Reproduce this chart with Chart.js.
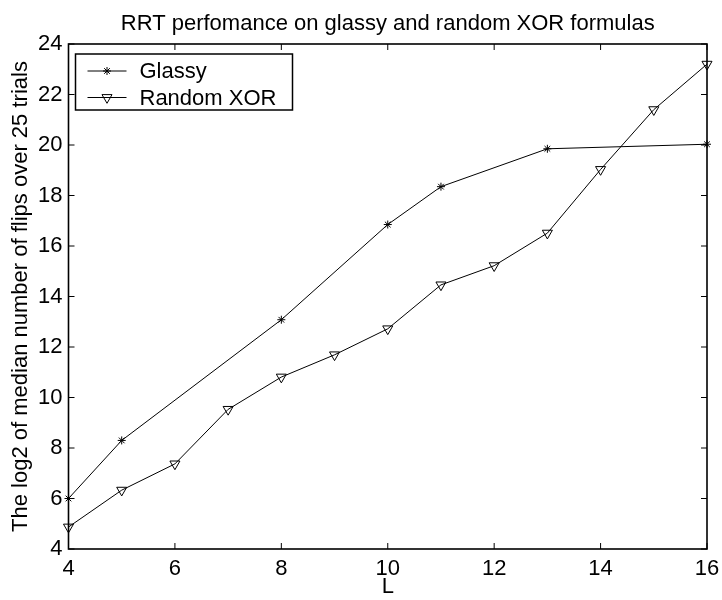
<!DOCTYPE html>
<html>
<head>
<meta charset="utf-8">
<script src="https://cdn.jsdelivr.net/npm/chart.js@4.4.1/dist/chart.umd.min.js"></script>
<style>
body { margin: 0; background: #fff; }
</style>
</head>
<body>
<canvas id="chart" width="722" height="600"></canvas>
<script>
// values
var glassyL = [4, 5, 8, 10, 11, 13, 16];
var glassyFlips = [6.0, 8.3, 13.08, 16.85, 18.35, 19.85, 20.03];
var xorL = [4, 5, 6, 7, 8, 9, 10, 11, 12, 13, 14, 15, 16];
var xorFlips = [4.87, 6.33, 7.37, 9.53, 10.81, 11.69, 12.72, 14.46, 15.22, 16.51, 19.03, 21.4, 23.2];
var xTicks = [4, 6, 8, 10, 12, 14, 16];
var yTicks = [4, 6, 8, 10, 12, 14, 16, 18, 20, 22, 24];
var seriesNames = ["Glassy", "Random XOR"];

var FONT = "'Liberation Sans', Arial, Helvetica, sans-serif";
Chart.defaults.font.family = FONT;
Chart.defaults.color = "#000";

function toPoints(xs, ys) {
    var pts = [];
    for (var i = 0; i < xs.length; i++) {
        pts.push({ x: xs[i], y: ys[i] });
    }
    return pts;
}

// white background, inward ticks on all four sides, the box and the legend
var framePlugin = {
    id: "frame",
    beforeDraw: function(chart) {
        var ctx = chart.ctx;
        ctx.save();
        ctx.fillStyle = "#fff";
        ctx.fillRect(0, 0, chart.width, chart.height);
        ctx.restore();
    },
    afterDraw: function(chart) {
        var ctx = chart.ctx;
        var a = chart.chartArea;
        var xs = chart.scales.x;
        var ys = chart.scales.y;
        ctx.save();
        ctx.strokeStyle = "#000";
        ctx.lineWidth = 1;
        ctx.beginPath();
        xs.ticks.forEach(function(t) {
            var px = xs.getPixelForValue(t.value);
            ctx.moveTo(px, a.bottom); ctx.lineTo(px, a.bottom - 6);
            ctx.moveTo(px, a.top); ctx.lineTo(px, a.top + 6);
        });
        ys.ticks.forEach(function(t) {
            var py = ys.getPixelForValue(t.value);
            ctx.moveTo(a.left, py); ctx.lineTo(a.left + 6, py);
            ctx.moveTo(a.right, py); ctx.lineTo(a.right - 6, py);
        });
        ctx.stroke();

        ctx.lineWidth = 1.6;
        ctx.strokeRect(a.left, a.top, a.right - a.left, a.bottom - a.top);

        // legend box in the upper left corner
        var bx = a.left + 7, by = a.top + 10, bw = 217, bh = 56;
        ctx.fillStyle = "#fff";
        ctx.fillRect(bx, by, bw, bh);
        ctx.lineWidth = 1.5;
        ctx.strokeRect(bx, by, bw, bh);

        ctx.font = "22px " + FONT;
        ctx.textAlign = "left";
        ctx.textBaseline = "middle";
        chart.data.datasets.forEach(function(ds, i) {
            var rowY = by + 17 + i * 26.5;
            ctx.strokeStyle = "#000";
            ctx.lineWidth = 1;
            ctx.beginPath();
            ctx.moveTo(bx + 12, rowY);
            ctx.lineTo(bx + 51, rowY);
            ctx.stroke();
            ctx.fillStyle = "rgba(0,0,0,0)";
            Chart.helpers.drawPoint(ctx, {
                pointStyle: ds.pointStyle,
                rotation: ds.pointRotation || 0,
                radius: ds.pointRadius,
                borderWidth: 1
            }, bx + 31.5, rowY);
            ctx.fillStyle = "#000";
            ctx.fillText(ds.label, bx + 64, rowY + 1);
        });
        ctx.restore();
    }
};

var canvas = document.getElementById("chart");
var rrtChart = new Chart(canvas.getContext("2d"), {
    type: "line",
    data: {
        datasets: [{
            label: seriesNames[0],
            data: toPoints(glassyL, glassyFlips),
            borderColor: "#000",
            borderWidth: 1,
            pointStyle: "star",
            pointRadius: 4,
            pointBorderColor: "#000",
            pointBorderWidth: 1,
            tension: 0,
            clip: false
        }, {
            label: seriesNames[1],
            data: toPoints(xorL, xorFlips),
            borderColor: "#000",
            borderWidth: 1,
            pointStyle: "triangle",
            pointRotation: 180,
            pointRadius: 5.8,
            pointBackgroundColor: "rgba(0,0,0,0)",
            pointBorderColor: "#000",
            pointBorderWidth: 1,
            tension: 0,
            clip: false
        }]
    },
    options: {
        responsive: false,
        devicePixelRatio: 1,
        animation: false,
        events: [],
        layout: { padding: { left: 0, right: 15, top: 0, bottom: 0 } },
        plugins: {
            legend: { display: false },
            tooltip: { enabled: false },
            title: {
                display: true,
                fullSize: false,
                text: "RRT perfomance on glassy and random XOR formulas",
                font: { size: 22, weight: "normal" },
                padding: { top: 11, bottom: 6.6 }
            }
        },
        scales: {
            x: {
                type: "linear",
                min: 4,
                max: 16,
                afterBuildTicks: function(scale) {
                    scale.ticks = xTicks.map(function(v) { return { value: v }; });
                },
                afterFit: function(scale) {
                    scale.height = 51;
                    scale.paddingLeft = 0;
                    scale.paddingRight = 0;
                },
                grid: { display: false, drawTicks: false },
                border: { display: false },
                ticks: { font: { size: 22 }, padding: 7, maxRotation: 0 },
                title: { display: true, text: "L", font: { size: 22 }, padding: { top: 0, bottom: 0 } }
            },
            y: {
                type: "linear",
                min: 4,
                max: 24,
                afterBuildTicks: function(scale) {
                    scale.ticks = yTicks.map(function(v) { return { value: v }; });
                },
                afterFit: function(scale) { scale.width = 68.5; },
                grid: { display: false, drawTicks: false },
                border: { display: false },
                ticks: { font: { size: 22 }, padding: 6 },
                title: {
                    display: true,
                    text: "The log2 of median number of flips over 25 trials",
                    font: { size: 22 },
                    padding: { top: 8, bottom: 0 }
                }
            }
        }
    },
    plugins: [framePlugin]
});
</script>
</body>
</html>
